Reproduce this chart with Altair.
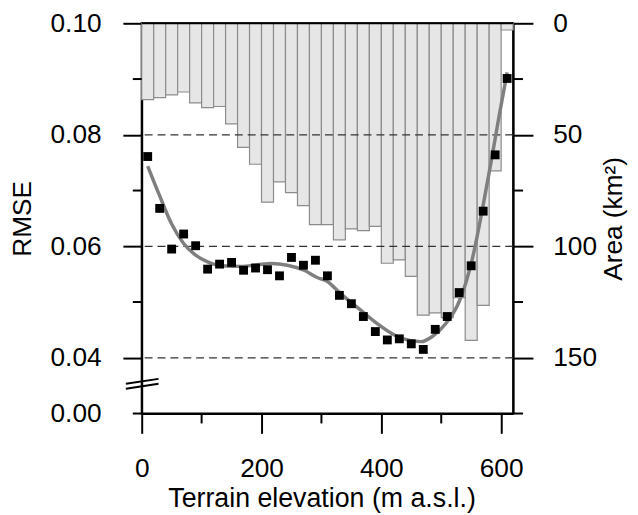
import altair as alt
import pandas as pd

# ---- data ----
elev_lo = [0, 20, 40, 60, 80, 100, 120, 140, 160, 180, 200, 220, 240, 260, 280, 300,
           320, 340, 360, 380, 400, 420, 440, 460, 480, 500, 520, 540, 560, 580, 600]
elev_hi = [20, 40, 60, 80, 100, 120, 140, 160, 180, 200, 220, 240, 260, 280, 300, 320,
           340, 360, 380, 400, 420, 440, 460, 480, 500, 520, 540, 560, 580, 600, 620]
elev_mid = [10, 30, 50, 70, 90, 110, 130, 150, 170, 190, 210, 230, 250, 270, 290, 310,
            330, 350, 370, 390, 410, 430, 450, 470, 490, 510, 530, 550, 570, 590, 610]
area_km2 = [34.2, 33.3, 32.1, 30.8, 35.7, 37.8, 37.3, 45.1, 55.6, 63.2, 80.2, 71.1, 75.9,
            81.8, 90.3, 90.3, 97.1, 92.2, 93.0, 91.1, 107.6, 106.1, 113.5, 130.9, 129.9,
            132.0, 123.0, 142.2, 126.5, 66.2, 3.0]
rmse = [0.0761, 0.0668, 0.0595, 0.0622, 0.0601, 0.0559, 0.0568, 0.0571, 0.0557, 0.0561,
        0.0558, 0.0547, 0.0580, 0.0566, 0.0575, 0.0547, 0.0512, 0.0497, 0.0474, 0.0447,
        0.0432, 0.0434, 0.0425, 0.0415, 0.0451, 0.0474, 0.0517, 0.0565, 0.0663, 0.0764,
        0.0901]
fit_elev = [10, 29, 50, 70, 90, 110, 133, 166, 194, 216, 243, 271, 293, 310, 331, 365,
            392, 425, 447, 467, 486, 508, 530, 552, 569, 583, 596, 610]
fit_rmse = [0.0744, 0.0693, 0.0640, 0.0605, 0.0584, 0.0572, 0.0565, 0.0564, 0.0567,
            0.0569, 0.0566, 0.0557, 0.0544, 0.0537, 0.0516, 0.0486, 0.0462, 0.0439,
            0.0431, 0.0429, 0.0439, 0.0462, 0.0501, 0.0578, 0.0668, 0.0750, 0.0830,
            0.0912]

x_major = [0, 200, 400, 600]
x_minor = [100, 300, 500]
rmse_ticks = [0.03, 0.04, 0.06, 0.08, 0.10]
rmse_minor = [0.03, 0.05, 0.07, 0.09]
rmse_grid = [0.04, 0.06, 0.08]
area_ticks = [0, 50, 100, 150]
area_minor = [25, 75, 125, 175]

FONT = "Liberation Sans"
FS = 26.5
W, H = 375, 394

XS = alt.Scale(domain=[0, 620], nice=False, zero=False)
RM = alt.Scale(domain=[0.03, 0.10], nice=False, zero=False)
AR = alt.Scale(domain=[0, 175], reverse=True, nice=False, zero=False)

XA = alt.Axis(
    values=x_major, tickSize=20, labelPadding=23, format="d", labelFlush=False,
    title="Terrain elevation (m a.s.l.)", titleX=181.6, titleY=73, titleFontSize=27,
    titleBaseline="top", titleAlign="center", orient="bottom")

bars_df = pd.DataFrame({"lo": elev_lo, "hi": elev_hi, "area": area_km2,
                        "zero": [0] * len(elev_lo)})
pts_df = pd.DataFrame({"elev": elev_mid, "rmse": rmse})
fit_df = pd.DataFrame({"elev": fit_elev, "rmse": fit_rmse})

bars = alt.Chart(bars_df).mark_bar(
    fill="#e6e6e6", stroke="#8c8c8c", strokeWidth=1.2
).encode(
    x=alt.X("lo:Q", scale=XS, axis=XA),
    x2="hi:Q",
    y=alt.Y("area:Q", scale=AR, axis=alt.Axis(
        orient="right", values=area_ticks, tickSize=20, labelPadding=20,
        labelFlush=False,
        title="Area (km²)", titleAngle=270, titleX=101, titleY=H / 2,
        titleBaseline="middle", titleAlign="center")),
    y2="zero:Q",
)

grid = alt.Chart(pd.DataFrame({"v": rmse_grid})).mark_rule(
    color="#333333", strokeWidth=1.3, strokeDash=[8, 5]
).encode(y=alt.Y("v:Q", scale=RM, axis=None))

xminor = alt.Chart(pd.DataFrame({"elev": x_minor})).mark_rule(
    color="black", strokeWidth=2
).encode(x=alt.X("elev:Q", scale=XS, axis=XA), y=alt.value(H), y2=alt.value(H + 10))

lminor = alt.Chart(pd.DataFrame({"v": rmse_minor})).mark_rule(
    color="black", strokeWidth=2
).encode(y=alt.Y("v:Q", scale=RM, axis=None), x=alt.value(-9), x2=alt.value(0))

rminor = alt.Chart(pd.DataFrame({"a": area_minor})).mark_rule(
    color="black", strokeWidth=2
).encode(y=alt.Y("a:Q", scale=AR, axis=None), x=alt.value(W), x2=alt.value(W + 10))

fit = alt.Chart(fit_df).mark_line(
    color="#7f7f7f", strokeWidth=3.5, interpolate="monotone"
).encode(
    x=alt.X("elev:Q", scale=XS, axis=XA),
    y=alt.Y("rmse:Q", scale=RM, axis=None),
)

pts = alt.Chart(pts_df).mark_square(size=80, color="black", opacity=1).encode(
    x=alt.X("elev:Q", scale=XS, axis=XA),
    y=alt.Y("rmse:Q", scale=RM, axis=alt.Axis(
        orient="left", values=rmse_ticks, tickSize=19, labelPadding=22,
        labelFlush=False,
        labelExpr="datum.value < 0.035 ? '0.00' : format(datum.value, '.2f')",
        tickOpacity={"condition": {"test": "datum.value < 0.035", "value": 0}, "value": 1},
        title="RMSE", titleAngle=270, titleX=-120, titleY=H / 2,
        titleBaseline="middle", titleAlign="center")),
)

top = alt.Chart(pd.DataFrame({"d": [0]})).mark_rule(color="black", strokeWidth=2).encode(
    x=alt.value(0), x2=alt.value(W), y=alt.value(0))
brk1 = alt.Chart(pd.DataFrame({"d": [0]})).mark_rule(color="black", strokeWidth=2).encode(
    x=alt.value(-16), x2=alt.value(17), y=alt.value(364), y2=alt.value(359))
brk2 = alt.Chart(pd.DataFrame({"d": [0]})).mark_rule(color="black", strokeWidth=2).encode(
    x=alt.value(-16), x2=alt.value(17), y=alt.value(369), y2=alt.value(364))

chart = alt.layer(
    bars, grid, xminor, lminor, rminor, fit, pts, top, brk1, brk2
).resolve_scale(y="independent").properties(
    width=W, height=H,
    autosize=alt.AutoSizeParams(type="none"),
    padding={"left": 135, "top": 13, "right": 118, "bottom": 100},
).configure_axis(
    labelFont=FONT, titleFont=FONT, labelFontSize=FS, titleFontSize=FS,
    labelColor="black", titleColor="black", titleFontWeight="normal",
    domainColor="black", tickColor="black", domainWidth=2, tickWidth=2,
    grid=False, zindex=1,
).configure_view(stroke="black", strokeWidth=2)

chart.save("out.html", embed_options={"renderer": "svg", "actions": False})
